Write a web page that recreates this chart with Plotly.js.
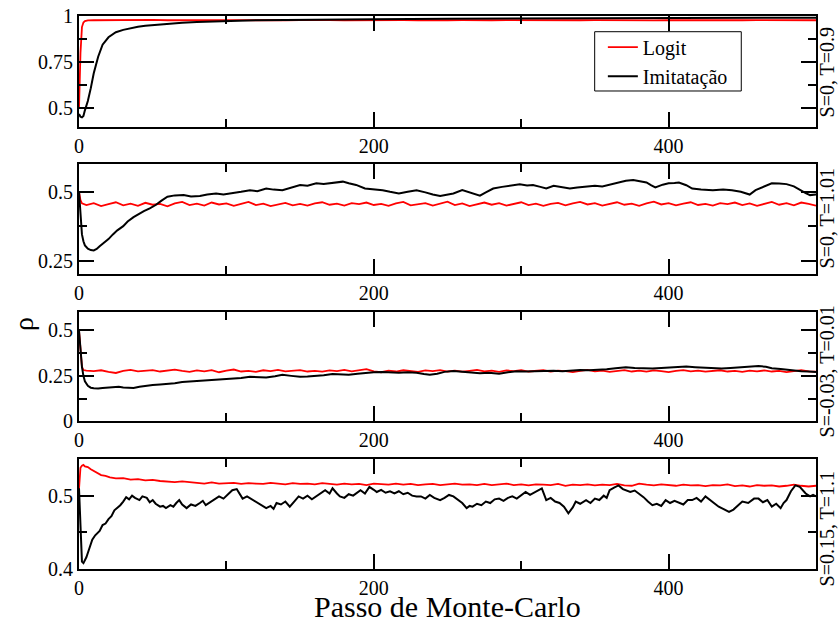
<!DOCTYPE html>
<html><head><meta charset="utf-8">
<script src="https://cdn.plot.ly/plotly-3.0.1.min.js"></script>
<style>html,body{margin:0;padding:0;background:#fff;} #chart{width:839px;height:626px;}</style>
</head><body><div id="chart"></div>
<script>
// ---------- data ----------
const seriesNames = ['Logit', 'Imitatação'];
const panelLabels = ['S=0, T=0.9', 'S=0, T=1.01', 'S=-0.03, T=0.01', 'S=0.15, T=1.1'];
const xTitle = 'Passo de Monte-Carlo';
const yTitle = 'ρ';

// Panel 1 (S=0, T=0.9)
const p1LogitX = [0,1,2,3,4,6,10,20,30,40,50,60,70,80,90,100,110,120,130,140,150,160,170,180,190,200,210,220,230,240,250,260,270,280,290,300,310,320,330,340,350,360,370,380,390,400,410,420,430,440,450,460,470,480,490,500];
const p1LogitY = [0.5,0.8,0.94,0.965,0.972,0.976,
  0.977,0.978,0.976,0.978,0.979,0.977,0.978,0.976,0.978,0.977,
  0.978,0.977,0.979,0.977,0.978,0.976,0.978,0.977,0.978,0.977,
  0.976,0.978,0.977,0.979,0.977,0.978,0.976,0.977,0.978,0.977,
  0.978,0.976,0.978,0.977,0.978,0.977,0.979,0.977,0.976,0.978,
  0.977,0.978,0.976,0.978,0.977,0.978,0.977,0.976,0.978,0.977];
const p1ImitX = [0,1,2,3,4,6,8,10,13,16,20,25,30,35,40,45,50,55,60,70,80,90,100,120,140,160,180,200,250,300,350,400,450,500];
const p1ImitY = [0.47,0.455,0.452,0.46,0.49,0.54,0.61,0.69,0.78,0.845,0.885,0.912,0.925,0.934,0.942,0.947,0.951,0.955,0.958,0.964,0.968,0.971,0.974,0.977,0.979,0.981,0.982,0.983,0.985,0.987,0.988,0.989,0.990,0.991];

// Panel 2 (S=0, T=1.01)
const p2LogitX = [0,1,2,3,5,10,15,20,25,30,35,40,45,50,55,60,65,70,75,80,85,90,95,100,105,110,115,120,125,130,135,140,145,150,155,160,165,170,175,180,185,190,195,200,205,210,215,220,225,230,235,240,245,250,255,260,265,270,275,280,285,290,295,300,305,310,315,320,325,330,335,340,345,350,355,360,365,370,375,380,385,390,395,400,405,410,415,420,425,430,435,440,445,450,455,460,465,470,475,480,485,490,495,500];
const p2LogitY = [0.5,0.47,0.458,0.455,
  0.452,0.459,0.448,0.455,0.462,0.451,0.457,0.449,0.46,0.453,
  0.456,0.447,0.458,0.463,0.452,0.457,0.45,0.461,0.454,0.458,
  0.449,0.456,0.463,0.452,0.457,0.448,0.455,0.46,0.451,0.456,
  0.45,0.458,0.462,0.453,0.457,0.45,0.459,0.455,0.461,0.452,
  0.456,0.449,0.458,0.463,0.451,0.456,0.459,0.45,0.457,0.464,
  0.452,0.458,0.448,0.455,0.461,0.453,0.459,0.45,0.456,0.462,
  0.452,0.457,0.449,0.456,0.46,0.451,0.458,0.463,0.454,0.459,
  0.45,0.456,0.462,0.453,0.457,0.449,0.458,0.464,0.454,0.459,
  0.451,0.457,0.462,0.452,0.456,0.45,0.459,0.455,0.461,0.452,
  0.458,0.449,0.457,0.463,0.453,0.459,0.451,0.461,0.456,0.45];
const p2ImitX = [0,1,2,3,4,6,8,10,12,14,17,20,23,26,30,33,37,40,44,48,52,56,60,65,71,76,82,87,93,98,104,110,116,121,127,132,138,144,150,155,161,166,172,179,183,188,194,200,206,211,217,223,229,235,240,245,250,254,260,265,272,276,281,287,293,299,304,308,313,317,322,327,333,338,344,350,355,361,367,371,376,380,385,388,391,396,400,404,407,412,416,422,430,437,443,449,455,459,465,470,475,480,485,489,493,496,500];
const p2ImitY = [0.5,0.4,0.345,0.32,0.305,0.293,0.288,0.287,0.292,0.302,0.315,0.328,0.345,0.36,0.375,0.392,0.408,0.418,0.43,0.44,0.452,0.468,0.482,0.487,0.488,0.483,0.485,0.49,0.494,0.49,0.494,0.5,0.506,0.502,0.512,0.508,0.506,0.515,0.525,0.522,0.531,0.528,0.531,0.537,0.531,0.525,0.512,0.51,0.506,0.5,0.494,0.5,0.506,0.498,0.49,0.485,0.49,0.494,0.506,0.498,0.486,0.498,0.512,0.518,0.522,0.527,0.523,0.525,0.518,0.512,0.522,0.517,0.512,0.516,0.519,0.522,0.519,0.527,0.534,0.54,0.543,0.538,0.534,0.524,0.516,0.526,0.531,0.532,0.534,0.524,0.512,0.508,0.506,0.508,0.506,0.5,0.49,0.506,0.52,0.531,0.53,0.528,0.52,0.506,0.495,0.488,0.49];

// Panel 3 (S=-0.03, T=0.01)
const p3LogitX = p2LogitX.slice();
const p3LogitY = [0.5,0.37,0.3,0.282,
  0.279,0.276,0.281,0.272,0.266,0.278,0.283,0.275,0.279,0.282,
  0.274,0.279,0.284,0.277,0.272,0.28,0.275,0.282,0.27,0.279,
  0.285,0.274,0.278,0.272,0.281,0.276,0.283,0.275,0.279,0.282,
  0.274,0.278,0.273,0.28,0.276,0.283,0.275,0.279,0.287,0.275,
  0.27,0.279,0.274,0.281,0.277,0.272,0.28,0.276,0.282,0.274,
  0.279,0.273,0.278,0.283,0.275,0.279,0.272,0.28,0.276,0.282,
  0.274,0.278,0.281,0.273,0.279,0.276,0.271,0.278,0.283,0.275,
  0.279,0.272,0.277,0.282,0.274,0.279,0.273,0.28,0.276,0.271,
  0.278,0.282,0.275,0.279,0.273,0.277,0.281,0.274,0.278,0.272,
  0.279,0.275,0.28,0.274,0.278,0.271,0.277,0.282,0.275,0.273];
const p3ImitX = [0,1,2,3,4,6,8,10,13,16,20,24,27,30,34,37,41,45,50,55,60,65,70,76,82,88,94,100,105,110,116,121,127,133,138,144,150,155,161,166,172,177,183,189,195,200,206,211,217,223,229,234,238,243,248,254,260,266,272,278,285,291,297,303,310,316,322,328,334,340,346,352,358,364,371,377,383,389,395,401,406,412,418,424,430,436,442,448,454,461,466,470,476,484,490,495,500];
const p3ImitY = [0.5,0.38,0.3,0.25,0.22,0.195,0.185,0.182,0.18,0.183,0.186,0.185,0.19,0.186,0.182,0.183,0.19,0.196,0.2,0.203,0.205,0.21,0.216,0.219,0.223,0.226,0.228,0.23,0.233,0.238,0.245,0.244,0.241,0.248,0.256,0.25,0.245,0.247,0.249,0.254,0.26,0.258,0.256,0.262,0.267,0.27,0.272,0.268,0.267,0.27,0.267,0.26,0.256,0.262,0.272,0.277,0.272,0.268,0.264,0.267,0.262,0.27,0.275,0.274,0.276,0.278,0.278,0.276,0.28,0.283,0.281,0.283,0.286,0.292,0.297,0.293,0.29,0.29,0.294,0.297,0.3,0.301,0.298,0.294,0.291,0.29,0.293,0.296,0.297,0.304,0.3,0.292,0.288,0.28,0.276,0.274,0.272];

// Panel 4 (S=0.15, T=1.1)
const p4LogitX = [0,1,2,3,4,6,8,10,12,15,18,21,25,30,35,40,45,50,55,60,65,70,75,80,85,90,95,100,105,110,115,120,125,130,135,140,145,150,155,160,165,170,175,180,185,190,195,200,205,210,215,220,225,230,235,240,245,250,255,260,265,270,275,280,285,290,295,300,305,310,315,320,325,330,335,340,345,350,355,360,365,370,375,380,385,390,395,400,405,410,415,420,425,430,435,440,445,450,455,460,465,470,475,480,485,490,495,500];
const p4LogitY = [0.509,0.538,0.541,0.542,0.54,0.539,0.536,0.534,0.531,0.528,0.527,0.525,0.5235,
  0.524,0.522,0.5225,0.521,0.5215,0.52,0.519,0.5185,0.5195,0.518,
  0.5175,0.5165,0.518,0.5165,0.517,0.5175,0.516,0.517,0.5165,0.516,
  0.5175,0.5165,0.5155,0.517,0.516,0.5165,0.5155,0.517,0.516,0.515,
  0.5165,0.5155,0.516,0.5145,0.5165,0.5155,0.515,0.5165,0.515,0.516,
  0.5145,0.5155,0.516,0.5145,0.5155,0.5165,0.515,0.5155,0.5145,0.516,
  0.5145,0.515,0.5165,0.5145,0.5155,0.514,0.5155,0.515,0.5145,0.516,
  0.5135,0.515,0.5145,0.5155,0.514,0.515,0.5145,0.516,0.514,0.5135,
  0.5165,0.515,0.514,0.5155,0.5145,0.5135,0.515,0.514,0.5145,0.513,
  0.5145,0.514,0.5155,0.513,0.514,0.5125,0.5145,0.5135,0.514,0.5125,
  0.5135,0.515,0.5135,0.5125,0.5135];
const p4ImitX = [0,1,2,3,4,5,7,9,11,14,16,18,20,22,24,26,28,30,32,34,36,38,41,43,46,48,50,52,55,57,59,62,64,66,68,70,73,76,79,82,84,86,89,92,95,98,101,104,107,109,111,114,118,121,124,127,130,132,134,137,140,143,146,149,152,155,158,161,164,167,170,172,175,177,180,183,186,189,191,194,197,200,202,205,208,211,214,217,220,223,226,229,232,235,238,241,245,248,251,254,257,260,263,265,267,270,273,276,279,282,285,288,291,294,297,300,303,306,309,312,314,317,320,323,326,329,332,335,337,340,344,347,350,353,356,358,360,363,366,369,371,374,377,380,383,386,389,392,395,398,401,404,407,410,413,416,419,422,425,428,431,434,437,441,444,447,450,454,458,461,464,467,470,473,476,478,480,483,486,489,491,493,496,498,500];
const p4ImitY = [0.51,0.45,0.41,0.408,0.412,0.416,0.428,0.44,0.446,0.452,0.46,0.462,0.468,0.472,0.48,0.483,0.487,0.492,0.498,0.495,0.5,0.497,0.494,0.499,0.497,0.491,0.494,0.489,0.485,0.486,0.483,0.487,0.485,0.49,0.494,0.488,0.483,0.488,0.486,0.49,0.493,0.487,0.491,0.495,0.499,0.496,0.502,0.5075,0.509,0.503,0.496,0.499,0.494,0.49,0.487,0.483,0.486,0.482,0.49,0.488,0.492,0.485,0.492,0.499,0.496,0.5,0.495,0.499,0.504,0.5075,0.503,0.51,0.503,0.499,0.497,0.502,0.5,0.504,0.5075,0.503,0.512,0.508,0.505,0.508,0.504,0.506,0.503,0.506,0.502,0.504,0.5,0.499,0.499,0.496,0.501,0.497,0.494,0.497,0.501,0.499,0.495,0.49,0.483,0.486,0.485,0.489,0.487,0.492,0.49,0.495,0.496,0.493,0.497,0.499,0.496,0.501,0.505,0.501,0.504,0.5075,0.51,0.494,0.497,0.492,0.49,0.485,0.476,0.484,0.492,0.489,0.494,0.49,0.496,0.494,0.5,0.497,0.5075,0.511,0.514,0.509,0.5075,0.505,0.507,0.503,0.498,0.492,0.487,0.489,0.486,0.494,0.49,0.493,0.49,0.488,0.494,0.494,0.497,0.492,0.499,0.494,0.49,0.485,0.482,0.478,0.481,0.487,0.492,0.49,0.496,0.496,0.491,0.494,0.485,0.489,0.483,0.49,0.494,0.506,0.514,0.512,0.5075,0.503,0.499,0.501,0.499];

// ---------- chart ----------
const panels = [
  {lx: p1LogitX, ly: p1LogitY, ix: p1ImitX, iy: p1ImitY},
  {lx: p2LogitX, ly: p2LogitY, ix: p2ImitX, iy: p2ImitY},
  {lx: p3LogitX, ly: p3LogitY, ix: p3ImitX, iy: p3ImitY},
  {lx: p4LogitX, ly: p4LogitY, ix: p4ImitX, iy: p4ImitY}
];
const yRanges = [[0.4, 1], [0.2, 0.6], [0, 0.6], [0.4, 0.55]];
const yDticks = [0.25, 0.25, 0.25, 0.1];
const yDomains = [[0.7993, 1], [0.5329, 0.7318], [0.2671, 0.4642], [0, 0.1989]];
const FONT = 'Liberation Serif';

const traces = [];
panels.forEach((p, i) => {
  const s = i === 0 ? '' : String(i + 1);
  traces.push({x: p.lx, y: p.ly, type: 'scatter', mode: 'lines', name: seriesNames[0],
    legendgroup: 'l', showlegend: i === 0, xaxis: 'x' + s, yaxis: 'y' + s,
    line: {color: '#ff0000', width: 1.8}});
  traces.push({x: p.ix, y: p.iy, type: 'scatter', mode: 'lines', name: seriesNames[1],
    legendgroup: 'i', showlegend: i === 0, xaxis: 'x' + s, yaxis: 'y' + s,
    line: {color: '#000000', width: 2}});
});

const layout = {
  width: 839, height: 626,
  margin: {l: 79, r: 22.5, t: 16, b: 57},
  paper_bgcolor: '#fff', plot_bgcolor: '#fff',
  font: {family: FONT, color: '#000', size: 20},
  showlegend: true,
  legend: {x: 0.7108, y: 0.9788, xanchor: 'left', yanchor: 'top', tracegroupgap: 0,
    bgcolor: 'rgba(0,0,0,0)', borderwidth: 0, font: {family: FONT, size: 20, color: '#000'}},
  shapes: [{type: 'rect', xref: 'paper', yref: 'paper', x0: 0.6997, x1: 0.8986, y0: 0.8644, y1: 0.9716,
    line: {color: '#000', width: 1}, fillcolor: 'rgba(0,0,0,0)'}],
  annotations: []
};

const axisCommon = {
  showline: true, linecolor: '#000', linewidth: 2, mirror: 'allticks',
  ticks: 'inside', ticklen: 15, tickwidth: 2, tickcolor: '#000',
  showgrid: false, zeroline: false,
  tickfont: {family: FONT, size: 20, color: '#000'}
};

yRanges.forEach((r, i) => {
  const s = i === 0 ? '' : String(i + 1);
  layout['xaxis' + s] = Object.assign({}, axisCommon, {
    range: [0, 500], tick0: 0, dtick: 200, anchor: 'y' + s,
    minor: {dtick: 100, ticklen: 8, tickwidth: 2, tickcolor: '#000', ticks: 'inside'}
  });
  layout['yaxis' + s] = Object.assign({}, axisCommon, {
    range: r, tick0: 0, dtick: yDticks[i], domain: yDomains[i], anchor: 'x' + s,
    minor: {dtick: yDticks[i] / 2, ticklen: 8, tickwidth: 2, tickcolor: '#000', ticks: 'inside'}
  });
});

// right-side panel labels
const labelCenters = [72, 218, 371, 528];
panelLabels.forEach((t, i) => {
  layout.annotations.push({text: t, xref: 'paper', yref: 'paper',
    x: (828 - 79) / 737.5, y: (569 - labelCenters[i]) / 553,
    xanchor: 'center', yanchor: 'middle', textangle: -90, showarrow: false,
    font: {family: FONT, size: 20, color: '#000'}});
});
layout.annotations.push({text: yTitle, xref: 'paper', yref: 'paper',
  x: (23 - 79) / 737.5, y: (569 - 324) / 553, xanchor: 'center', yanchor: 'middle',
  textangle: -90, showarrow: false, font: {family: FONT, size: 28, color: '#000'}});
layout.annotations.push({text: xTitle, xref: 'paper', yref: 'paper',
  x: 0.5, y: (569 - 606) / 553, xanchor: 'center', yanchor: 'middle',
  showarrow: false, font: {family: FONT, size: 30, color: '#000'}});

Plotly.newPlot('chart', traces, layout, {displayModeBar: false, staticPlot: true});
</script>
</body></html>
